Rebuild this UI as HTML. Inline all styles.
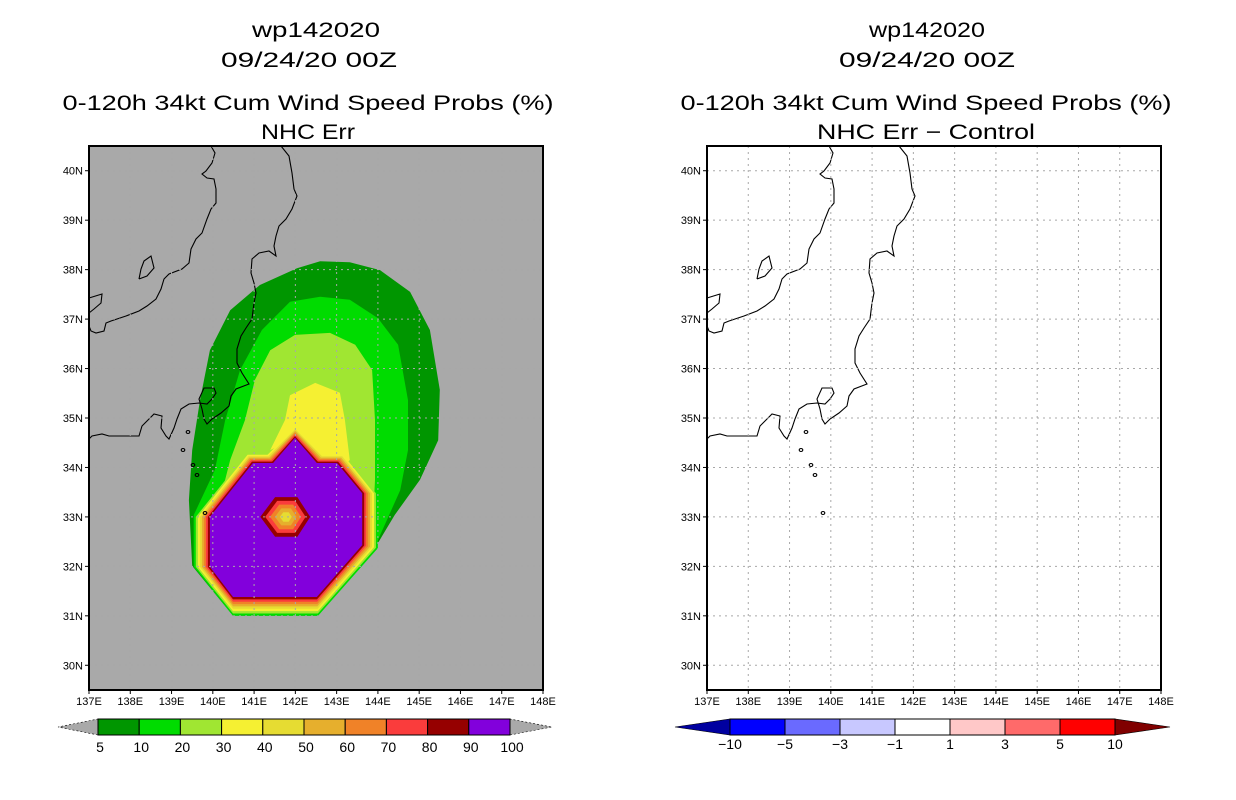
<!DOCTYPE html>
<html><head><meta charset="utf-8"><style>
html,body{margin:0;padding:0;background:#fff;}
svg{display:block;font-family:"Liberation Sans",sans-serif;}
</style></head><body>
<svg id="fig" width="1236" height="800" viewBox="0 0 1236 800" xmlns="http://www.w3.org/2000/svg">
<defs>
<clipPath id="clipL"><rect x="89" y="146" width="454" height="544"/></clipPath>
<clipPath id="clipR"><rect x="707" y="146" width="454" height="544"/></clipPath>
</defs>
<g font-size="21" text-anchor="middle" fill="#000">
<text x="316" y="37" textLength="128" lengthAdjust="spacingAndGlyphs">wp142020</text>
<text x="309" y="67" textLength="176" lengthAdjust="spacingAndGlyphs">09/24/20 00Z</text>
<text x="308" y="110" textLength="491" lengthAdjust="spacingAndGlyphs">0-120h 34kt Cum Wind Speed Probs (%)</text>
<text x="308" y="139" textLength="94" lengthAdjust="spacingAndGlyphs">NHC Err</text>
</g>
<g font-size="21" text-anchor="middle" fill="#000">
<text x="927" y="37" textLength="116" lengthAdjust="spacingAndGlyphs">wp142020</text>
<text x="927" y="67" textLength="176" lengthAdjust="spacingAndGlyphs">09/24/20 00Z</text>
<text x="926" y="110" textLength="491" lengthAdjust="spacingAndGlyphs">0-120h 34kt Cum Wind Speed Probs (%)</text>
<text x="926" y="139" textLength="218" lengthAdjust="spacingAndGlyphs">NHC Err − Control</text>
</g>
<g id="leftPlot"></g>
<g id="rightPlot"></g>
<g id="cbL"></g>
<g id="cbR"></g>
</svg>
<script>
// ---- data ----
const lonTicks = [137,138,139,140,141,142,143,144,145,146,147,148];
const latTicks = [30,31,32,33,34,35,36,37,38,39,40];
const probLevels = [5,10,20,30,40,50,60,70,80,90];
const probColors = ["#009600","#00dc00","#a0e632","#f5f032","#e6dc32","#e6af2d","#f08228","#fa3c3c","#960000","#8200dc"];
const diffLabels = ["-10","-5","-3","-1","1","3","5","10"];
const diffColors = ["#0000a0","#0000ff","#6a6aff","#c8c8ff","#ffffff","#ffc8c8","#ff6a6a","#ff0000","#800000"];
// contour polygons [lon,lat]
const lobe5 = [[140.49,31.0],[139.5,32.01],[139.42,33.34],[139.5,34.35],[139.69,35.36],[139.93,36.37],[140.42,37.18],[141.14,37.69],[142.04,38.03],[142.6,38.17],[143.32,38.15],[144.05,37.99],[144.78,37.55],[145.26,36.78],[145.5,35.57],[145.46,34.55],[145.02,33.75],[144.41,33.04],[144.0,32.47],[142.55,31.0]];
const lobe10 = [[140.51,31.06],[139.54,32.07],[139.54,33.04],[140.05,33.95],[140.3,34.96],[140.66,35.97],[141.19,36.78],[141.87,37.35],[142.6,37.45],[143.32,37.39],[144.0,37.02],[144.49,36.48],[144.73,35.36],[144.73,34.35],[144.54,33.54],[144.0,32.53],[142.6,31.06]];
const lobe20 = [[140.05,32.94],[140.42,34.15],[140.78,34.96],[141.02,35.77],[141.39,36.37],[141.99,36.68],[142.84,36.72],[143.45,36.48],[143.86,35.97],[143.93,34.96],[143.93,33.75],[143.86,32.53],[143.08,32.94]];
const lobe30 = [[141.39,34.35],[141.75,34.96],[141.87,35.46],[142.48,35.71],[143.08,35.51],[143.2,34.96],[143.32,34.15],[143.08,33.95],[141.87,34.55]];
const octOuter = [[139.54,33.0],[140.80,34.31],[141.28,34.31],[142.0,34.88],[142.72,34.31],[143.21,34.31],[144.0,33.48],[144.0,32.37],[142.55,31.0],[140.49,31.0],[139.54,31.99]];
const octInner = [[139.93,33.0],[140.97,34.09],[141.46,34.09],[141.99,34.6],[142.52,34.09],[143.01,34.09],[143.62,33.48],[143.62,32.43],[142.52,31.38],[140.49,31.38],[139.93,31.99]];
const holeHex = [[141.15,33.0],[141.51,33.4],[142.05,33.4],[142.36,33.0],[142.05,32.6],[141.51,32.6]];
const holeLevels = [80,70,60,50,40];
// coastline in local plot pixels (geographic outline, not data)
const coastA=[[122,0],[126,7],[123,17],[117,25],[113,28],[118,32],[125,33],[127,43],[127,57],[122,63],[118,73],[113,87],[107,93],[102,103],[100,117],[93,123],[80,128],[75,133],[72,143],[67,153],[58,160],[50,165],[37,170],[22,175],[17,177],[15,185],[7,187],[2,185],[0,180]];
const coastN=[[0,152],[13,148],[12,157],[5,163],[0,167]];
const sado=[[50,133],[58,130],[65,122],[62,110],[55,115],[52,123],[50,133]];
const coastB=[[192,0],[200,10],[203,27],[205,43],[208,50],[203,63],[197,73],[190,80],[187,90],[185,100],[187,110],[180,105],[170,107],[163,113],[162,127],[165,137],[167,147],[165,157],[163,173],[157,182],[152,190],[148,203],[148,217],[153,227],[160,238],[147,243],[142,250],[140,260],[132,267],[123,273],[118,278],[115,273],[113,263],[110,253],[115,242],[125,242],[127,247],[123,253],[118,258],[110,257],[100,258],[92,263],[88,273],[85,282],[80,293],[77,290],[72,282],[73,270],[65,268],[60,273],[53,280],[50,290],[37,290],[20,290],[13,288],[3,290],[0,293]];
const islands=[[99,286],[94,304],[104,319],[108,329],[116,367]];

const NS="http://www.w3.org/2000/svg";
function mk(tag,attrs,parent){const e=document.createElementNS(NS,tag);for(const k in attrs)e.setAttribute(k,attrs[k]);parent.appendChild(e);return e;}
const W=454,H=544,Y0=146,LON0=137,LON1=148,LAT0=29.5,LAT1=40.5;
function xs(x0){return lon=>x0+(lon-LON0)/(LON1-LON0)*W;}
function ys(lat){return Y0+(LAT1-lat)/(LAT1-LAT0)*H;}
function ptsStr(poly,sx){return poly.map(p=>sx(p[0]).toFixed(1)+","+ys(p[1]).toFixed(1)).join(" ");}

function drawFrame(x0,g,clip,bg){
  const sx=xs(x0);
  const back=mk("rect",{x:x0,y:Y0,width:W,height:H,fill:bg},g);
  
  
  return sx;
}
function drawCoast(x0,g){
  const cg=mk("g",{transform:`translate(${x0},${Y0})`,fill:"none",stroke:"#000","stroke-width":"1.1"},g);
  
  
  [coastA,coastN,sado,coastB].forEach(c=>mk("polyline",{points:c.map(p=>p.join(",")).join(" ")},cg));
  islands.forEach(p=>mk("ellipse",{cx:p[0],cy:p[1],rx:1.8,ry:1.5},cg));
}
function drawGridAxes(x0,g,clipId){
  const sx=xs(x0);
  const gg=mk("g",{"clip-path":`url(#${clipId})`,stroke:"#a8a8a8","stroke-width":"1","stroke-dasharray":"2,4"},g);
  
  
  lonTicks.forEach(l=>mk("line",{x1:sx(l),x2:sx(l),y1:Y0,y2:Y0+H},gg));
  latTicks.forEach(l=>mk("line",{x1:x0,x2:x0+W,y1:ys(l),y2:ys(l)},gg));
  const fr=mk("rect",{x:x0,y:Y0,width:W,height:H,fill:"none",stroke:"#000","stroke-width":"2"},g);
  
  
  const xa=mk("g",{"font-size":"11","text-anchor":"middle"},g);
  
  
  lonTicks.forEach(l=>{mk("line",{x1:sx(l),x2:sx(l),y1:Y0+H,y2:Y0+H+4,stroke:"#000"},xa);
    const t=mk("text",{x:sx(l),y:Y0+H+15},xa);t.textContent=l+"E";});
  const ya=mk("g",{"font-size":"11","text-anchor":"end"},g);
  
  
  latTicks.forEach(l=>{mk("line",{x1:x0-4,x2:x0,y1:ys(l),y2:ys(l),stroke:"#000"},ya);
    const t=mk("text",{x:x0-6,y:ys(l)+4},ya);t.textContent=l+"N";});
}
function lerpPoly(a,b,t){return a.map((p,i)=>[p[0]+(b[i][0]-p[0])*t,p[1]+(b[i][1]-p[1])*t]);}
function scalePoly(a,s){const cx=a.reduce((q,p)=>q+p[0],0)/a.length,cy=a.reduce((q,p)=>q+p[1],0)/a.length;return a.map(p=>[cx+(p[0]-cx)*s,cy+(p[1]-cy)*s]);}

// left
const L=document.getElementById("leftPlot");
const sxL=drawFrame(89,L,"clipL","#a9a9a9");
const cont=mk("g",{"clip-path":"url(#clipL)"},L);


function fillPoly(poly,lvlIdx,name){
  const p=mk("polygon",{points:ptsStr(poly,sxL),fill:probColors[lvlIdx]},cont);
  
  
}
fillPoly(lobe5,0,"contour-5");
fillPoly(lobe10,1,"contour-10");
fillPoly(octOuter,1,"contour-10-core");
fillPoly(lobe20,2,"contour-20");
for(let i=2;i<probLevels.length;i++){
  const t=(i-1)/(probLevels.length-2);
  if(i===3) fillPoly(lobe30,3,"contour-30");
  fillPoly(lerpPoly(octOuter,octInner,t),i,"contour-"+probLevels[i]);
}
holeLevels.forEach((lv,k)=>{
  const idx=probLevels.indexOf(lv);
  fillPoly(scalePoly(holeHex,1-k*0.19),idx,"center-contour-"+lv);
});
drawCoast(89,L);
drawGridAxes(89,L,"clipL");

// right
const R=document.getElementById("rightPlot");
drawFrame(707,R,"clipR","#ffffff");
drawCoast(707,R);
drawGridAxes(707,R,"clipR");

// colorbar left
const cbL=document.getElementById("cbL");
const bx0=98,bx1=510,by=719,bh=16,segL=(bx1-bx0)/probLevels.length;
const tl=mk("polygon",{points:`${bx0},${by} ${bx0},${by+bh} 58,${by+bh/2}`,fill:"#a9a9a9",stroke:"#000","stroke-dasharray":"2,2","stroke-width":"0.6"},cbL);

const tr=mk("polygon",{points:`${bx1},${by} ${bx1},${by+bh} 552,${by+bh/2}`,fill:"#a9a9a9",stroke:"#000","stroke-dasharray":"2,2","stroke-width":"0.6"},cbL);

probLevels.forEach((lv,i)=>{
  const r=mk("rect",{x:bx0+i*segL,y:by,width:segL,height:bh,fill:probColors[i],stroke:"#000","stroke-width":"1"},cbL);
  
  
});
[...probLevels,100].forEach((lv,i)=>{
  const t=mk("text",{x:bx0+i*segL+2,y:752,"font-size":"14","text-anchor":"middle"},cbL);
  t.textContent=lv;
});
// colorbar right
const cbR=document.getElementById("cbR");
const rx0=730,seg=55,ry=719;
const rl=mk("polygon",{points:`${rx0},${ry} ${rx0},${ry+bh} 675,${ry+bh/2}`,fill:diffColors[0],stroke:"#000","stroke-width":"0.6"},cbR);

const rEnd=rx0+seg*(diffColors.length-2);
const rr=mk("polygon",{points:`${rEnd},${ry} ${rEnd},${ry+bh} 1170,${ry+bh/2}`,fill:diffColors[diffColors.length-1],stroke:"#000","stroke-width":"0.6"},cbR);

for(let i=1;i<diffColors.length-1;i++){
  const r=mk("rect",{x:rx0+(i-1)*seg,y:ry,width:seg,height:bh,fill:diffColors[i],stroke:"#000","stroke-width":"1"},cbR);
  
  
}
diffLabels.forEach((lb,i)=>{
  const t=mk("text",{x:rx0+i*seg,y:749,"font-size":"14","text-anchor":"middle"},cbR);
  t.textContent=lb.replace("-","−");
});
</script>
</body></html>
